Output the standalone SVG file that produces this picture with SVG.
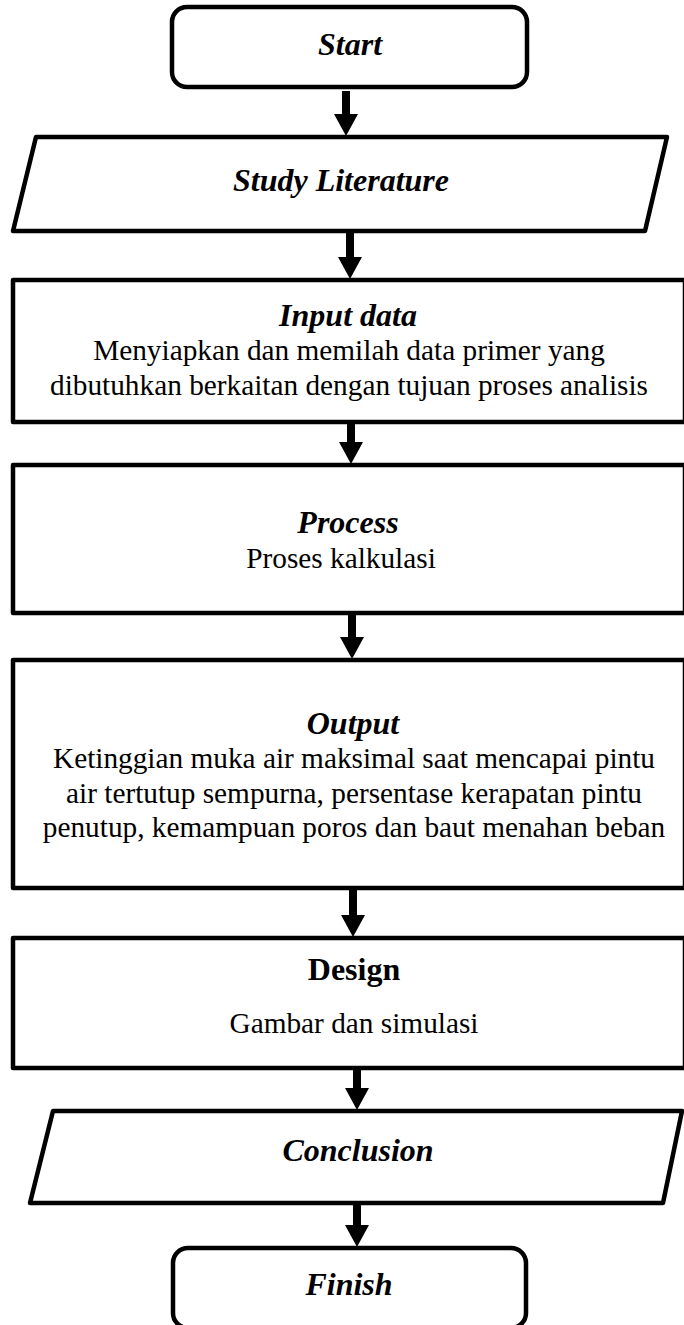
<svg xmlns="http://www.w3.org/2000/svg" width="684" height="1325" viewBox="0 0 684 1325">
<defs>
<marker id="ah" markerUnits="userSpaceOnUse" markerWidth="22" markerHeight="24" viewBox="0 0 22 24" refX="0" refY="12" orient="auto">
<path d="M0,0 L22,12 L0,24 z" fill="#000"/>
</marker>
<style>
.shape{fill:#fff;stroke:#000;stroke-width:4.5;stroke-linejoin:round}
.conn{stroke:#000;stroke-width:8;fill:none;marker-end:url(#ah)}
text{font-family:"Liberation Serif","Times New Roman",serif;text-anchor:middle;fill:#000}
.h{font-size:32px;font-weight:bold;font-style:italic}
.hb{font-size:32px;font-weight:bold}
.b{font-size:29.3px}
</style>
</defs>
<rect width="684" height="1325" fill="#fff"/>
<g id="connectors">
<line class="conn" x1="346" y1="91" x2="346" y2="114"/>
<line class="conn" x1="350" y1="232" x2="350" y2="257"/>
<line class="conn" x1="351" y1="422" x2="351" y2="442"/>
<line class="conn" x1="352" y1="613" x2="352" y2="637"/>
<line class="conn" x1="353" y1="888" x2="353" y2="915"/>
<line class="conn" x1="357" y1="1068" x2="357" y2="1088"/>
<line class="conn" x1="357" y1="1203" x2="357" y2="1225"/>
</g>
<g id="start">
<rect class="shape" x="172" y="7" width="355" height="80" rx="15"/>
<text class="h" x="350" y="55">Start</text>
</g>
<g id="study">
<polygon class="shape" points="36,137 667,137 645,231 13,231"/>
<text class="h" x="341" y="191">Study Literature</text>
</g>
<g id="input">
<rect class="shape" x="13" y="280" width="672" height="142"/>
<text class="h" x="348" y="326">Input data</text>
<text class="b" x="349" y="360">Menyiapkan dan memilah data primer yang</text>
<text class="b" x="349" y="395">dibutuhkan berkaitan dengan tujuan proses analisis</text>
</g>
<g id="process">
<rect class="shape" x="13" y="465" width="672" height="148"/>
<text class="h" x="348" y="533">Process</text>
<text class="b" x="341" y="568">Proses kalkulasi</text>
</g>
<g id="output">
<rect class="shape" x="13" y="660" width="672" height="228"/>
<text class="h" x="353" y="734">Output</text>
<text class="b" x="354" y="768">Ketinggian muka air maksimal saat mencapai pintu</text>
<text class="b" x="354" y="803">air tertutup sempurna, persentase kerapatan pintu</text>
<text class="b" x="354" y="837">penutup, kemampuan poros dan baut menahan beban</text>
</g>
<g id="design">
<rect class="shape" x="13" y="938" width="672" height="130"/>
<text class="hb" x="354" y="980">Design</text>
<text class="b" x="354" y="1033">Gambar dan simulasi</text>
</g>
<g id="conclusion">
<polygon class="shape" points="53,1111 682,1111 663,1203 30,1203"/>
<text class="h" x="358" y="1161">Conclusion</text>
</g>
<g id="finish">
<rect class="shape" x="173" y="1248" width="353" height="80" rx="15"/>
<text class="h" x="349" y="1295">Finish</text>
</g>
</svg>
